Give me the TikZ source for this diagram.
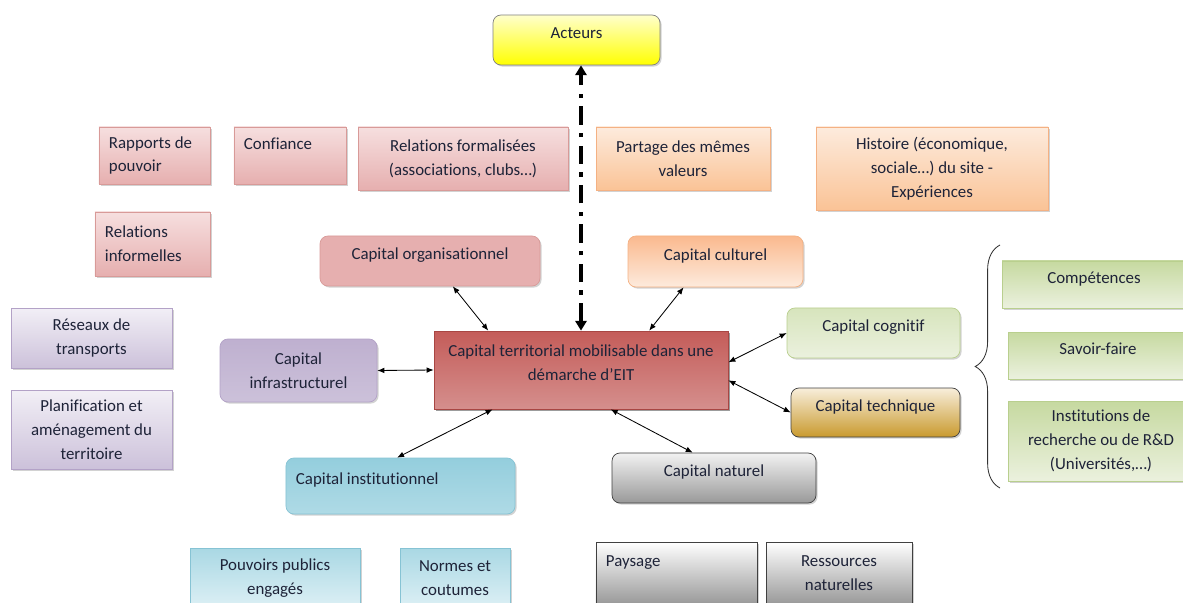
\documentclass[tikz,border=0pt]{standalone}
\usepackage{fontspec}
\setmainfont{Carlito}[Ligatures=NoCommon]
\usetikzlibrary{shadows,arrows.meta,decorations.pathreplacing}

\newcommand{\pxu}{0.025cm}

\definecolor{inkText}{HTML}{1E2338}
\definecolor{pinkTop}{HTML}{F6DFDF}
\definecolor{pinkBot}{HTML}{E6AFAF}
\definecolor{pinkLine}{HTML}{D89A98}
\definecolor{redTop}{HTML}{C45C59}
\definecolor{redMid}{HTML}{C0504D}
\definecolor{redBot}{HTML}{D58F8D}
\definecolor{redLine}{HTML}{A84643}
\definecolor{orangeTop}{HTML}{FDEBDD}
\definecolor{orangeBot}{HTML}{FAC396}
\definecolor{orangeLine}{HTML}{F4B183}
\definecolor{greenTop}{HTML}{C6D9A0}
\definecolor{greenBot}{HTML}{EBF1DE}
\definecolor{greenLine}{HTML}{B9CF8E}
\definecolor{purpleTop}{HTML}{F2EFF6}
\definecolor{purpleBot}{HTML}{CCC1DA}
\definecolor{purpleLine}{HTML}{B3A2C7}
\definecolor{blueTop}{HTML}{94CEDD}
\definecolor{blueBot}{HTML}{DDF0F5}
\definecolor{blueLine}{HTML}{86C3D4}
\definecolor{goldTop}{HTML}{F8EEDB}
\definecolor{goldBot}{HTML}{C99A2E}

\begin{document}
\begin{tikzpicture}[x=0.025cm, y=-0.025cm,
    font=\fontsize{12}{17}\selectfont, text=inkText,
    box/.style 2 args={draw, line width=0.5pt, minimum width=#1*\pxu, minimum height=#2*\pxu,
        inner xsep=0.3cm, inner ysep=0pt, align=center,
        drop shadow={shadow xshift=0.04cm, shadow yshift=-0.04cm, fill=black!35}},
    capbox/.style 2 args={box={#1}{#2}, rounded corners=0.2cm},
    oneline/.style={text height=0.7em, text depth=0.85em},
    leftbox/.style={inner xsep=0.25cm, align=flush left, text width=#1},
    pinkbox/.style={draw=pinkLine, top color=pinkTop, bottom color=pinkBot},
    orangebox/.style={draw=orangeLine, top color=orangeTop, bottom color=orangeBot},
    greenbox/.style={draw=greenLine, top color=greenTop, bottom color=greenBot},
    purplebox/.style={draw=purpleLine, top color=purpleTop, bottom color=purpleBot},
    bluebox/.style={draw=blueLine, top color=blueTop!80, bottom color=blueBot},
    graybox/.style={draw=black!75, top color=white, bottom color=black!40},
    link/.style={{Latex[length=5pt,width=4pt]}-{Latex[length=5pt,width=4pt]}, line width=0.6pt},
    actorlink/.style={{Triangle[length=7pt,width=8pt]}-{Triangle[length=7pt,width=8pt]},
        line width=2.6pt, dash pattern=on 13pt off 6pt on 3pt off 6pt}]

    \useasboundingbox (0,0) rectangle (1183,603);
    \clip (0,0) rectangle (1183,603);

    \node[capbox={167}{50}, oneline, draw=black!50, top color=yellow!20, bottom color=yellow] (acteurs) at (576.5,40) {Acteurs};

    \node[box={111}{57}, pinkbox, leftbox=2.275cm] (pouvoir) at (154.5,155.5) {Rapports de\\pouvoir};
    \node[box={112}{57}, pinkbox, leftbox=2.3cm] (confiance) at (290,155.5) {Confiance\\~};
    \node[box={210}{63}, pinkbox] (formelles) at (463,158.5) {Relations formalisées\\(associations, clubs…)};
    \node[box={115}{64}, pinkbox, leftbox=2.375cm] (informelles) at (152.5,244) {Relations\\informelles};
    \node[box={174}{63}, orangebox] (valeurs) at (683,158.5) {Partage des mêmes\\valeurs};
    \node[box={232}{83}, orangebox] (histoire) at (932,168.5) {Histoire (économique,\\sociale…) du site -\\Expériences};

    \node[box={161}{60}, purplebox] (reseaux) at (91.5,338) {Réseaux de\\transports};
    \node[box={161}{79}, purplebox] (planif) at (91.5,429.5) {Planification et\\aménagement du\\territoire};

    \node[capbox={220}{50}, oneline, draw=pinkLine, top color=pinkBot, middle color=pinkTop, bottom color=pinkBot] (org) at (430,261) {Capital organisationnel};
    \node[capbox={175}{51}, oneline, draw=orangeLine, top color=orangeBot!95!red, bottom color=orangeTop] (culturel) at (715.5,261.5) {Capital culturel};
    \node[capbox={173}{50}, oneline, draw=greenLine, top color=greenTop!70, bottom color=greenBot] (cognitif) at (873.5,333) {Capital cognitif};
    \node[capbox={169}{49}, oneline, draw=black!75, top color=goldTop, bottom color=goldBot] (technique) at (875.5,412.5) {Capital technique};
    \node[capbox={157}{63}, draw=purpleLine, top color=purpleLine!85, middle color=purpleTop, bottom color=purpleBot] (infra) at (298.5,370.5) {Capital\\infrastructurel};
    \node[capbox={229}{56}, oneline, draw=blueLine, top color=blueTop, middle color=blueBot, bottom color=blueTop!75, leftbox=5.225cm] (institutionnel) at (400.5,486) {Capital institutionnel};
    \node[capbox={204}{50}, oneline, graybox, top color=black!5] (naturel) at (714,478) {Capital naturel};

    \node[box={294}{78}, draw=redLine, top color=redTop, middle color=redMid, bottom color=redBot,
        drop shadow={shadow xshift=0.06cm, shadow yshift=-0.06cm, fill=black!60}] (capital) at (581,370)
        {Capital territorial mobilisable dans une\\démarche d’EIT\\[-6pt]~};

    \node[box={184}{47}, oneline, greenbox] (competences) at (1094,284.5) {Compétences};
    \node[box={180}{47}, oneline, greenbox] (savoir) at (1098,355.5) {Savoir-faire};
    \node[box={186}{80}, greenbox] (recherche) at (1101,441) {Institutions de\\recherche ou de R\&D\\(Universités,…)};

    \node[box={170}{60}, bluebox] (publics) at (275,578) {Pouvoirs publics\\engagés};
    \node[box={110}{60}, bluebox] (normes) at (455,578) {Normes et\\coutumes};
    \node[box={161}{62}, graybox, leftbox=3.525cm] (paysage) at (676.5,573) {Paysage\\~};
    \node[box={146}{62}, graybox] (ressources) at (839,573) {Ressources\\naturelles};

    \draw[actorlink] (capital.north) -- (capital.north |- acteurs.south);
    \draw[link] (org.-48.5) -- (capital.157.5);
    \draw[link] (culturel.219.9) -- (capital.30.2);
    \draw[link] (infra.east) -- (capital.west);
    \draw[link] (cognitif.west) -- (capital.3);
    \draw[link] (technique.west) -- (capital.-4);
    \draw[link] (institutionnel.97) -- (capital.204.4);
    \draw[link] (naturel.130) -- (capital.-53.4);

    \coordinate (braceTop) at (1000,245);
    \coordinate (braceBot) at (1000,488);
    \draw[black!80, line width=0.6pt, decorate, decoration={brace, amplitude=0.62cm}] (braceBot) -- (braceTop);
\end{tikzpicture}
\end{document}
